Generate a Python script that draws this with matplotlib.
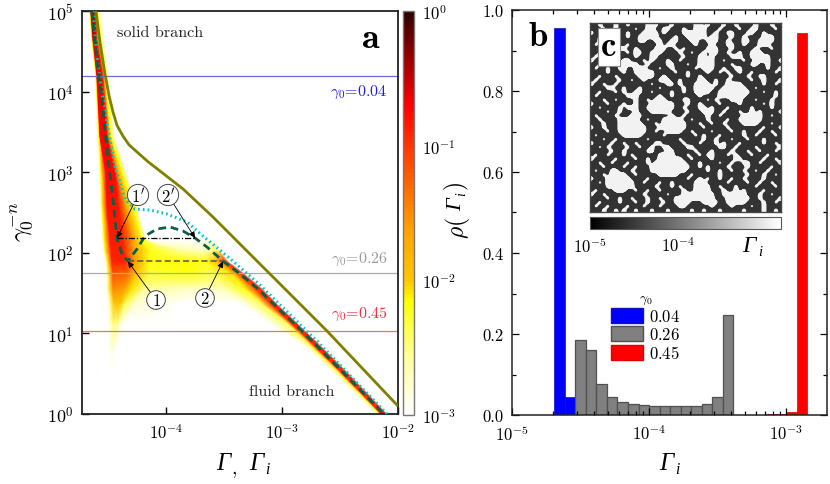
import numpy as np
import matplotlib
matplotlib.use("Agg")
import matplotlib.pyplot as plt
from matplotlib.colors import LinearSegmentedColormap, LogNorm
from matplotlib.cm import ScalarMappable
from matplotlib.patches import Patch
from matplotlib.ticker import MultipleLocator, FormatStrFormatter, NullLocator, FixedLocator, NullFormatter

plt.rcParams["font.family"] = ["cmr10", "DejaVu Sans"]
plt.rcParams["mathtext.fontset"] = "cm"
plt.rcParams["axes.formatter.use_mathtext"] = True
plt.rcParams["axes.unicode_minus"] = False

# panel a, curves (log10 Gamma, log10 gamma0^-n)
olive_x = [-4.603, -4.586, -4.569, -4.526, -4.491, -4.457, -4.422, -4.371, -4.319, -4.25, -4.155, -4.052, -3.853, -3.595, -3.19, -3.06, -2.612, -2.009]
olive_y = [5.0, 4.8, 4.615, 4.218, 3.95, 3.747, 3.58, 3.449, 3.34, 3.251, 3.13, 3.015, 2.792, 2.444, 1.861, 1.675, 1.03, 0.112]
cyan_x = [-4.629, -4.595, -4.569, -4.509, -4.44, -4.353, -4.267, -4.138, -3.991, -3.819, -3.681, -3.474, -3.207, -2.69, -2.095]
cyan_y = [5.0, 4.442, 4.156, 3.623, 3.077, 2.667, 2.543, 2.531, 2.481, 2.382, 2.208, 1.96, 1.625, 0.893, 0.0]
green_x = [-4.638, -4.586, -4.552, -4.5, -4.457, -4.422, -4.379, -4.328, -4.25, -4.181, -4.078, -3.966, -3.853, -3.75, -3.647, -3.509, -3.362, -3.207, -2.819, -2.121]
green_y = [5.0, 4.28, 3.908, 3.164, 2.667, 2.171, 1.985, 1.898, 2.047, 2.208, 2.295, 2.32, 2.27, 2.184, 2.072, 1.898, 1.737, 1.551, 1.017, 0.0]

# strain lines and the two tie lines
strain_levels = [4.19, 1.75, 1.03]
strain_colors = ["#6a6ae6", "#aaaaaa", "#ff6a6a"]
strain_names = ["$\\gamma_0$=0.04", "$\\gamma_0$=0.26", "$\\gamma_0$=0.45"]
strain_text = ["#2020e0", "#999999", "#f03040"]
tie1_x, tie1_y = [-4.328, -3.491], 1.893
tie2_x, tie2_y = [-4.422, -3.75], 2.184

# panel a, density map: one row per height, samples across the two branches
heat_y = [5.0, 4.653, 4.194, 3.449, 2.978, 2.605, 2.171, 2.022, 1.898, 1.737, 1.551, 1.365, 1.117, 0.806, 0.496, 0.0]
heat_x = [
    [-4.664, -4.655, -4.647, -4.621, -4.603, -4.595, -4.56, -3.707, -3.664, -3.638, -3.621, -3.603],
    [-4.647, -4.638, -4.629, -4.603, -4.586, -4.569, -4.534, -3.707, -3.664, -3.638, -3.621, -3.603],
    [-4.612, -4.603, -4.595, -4.552, -4.534, -4.526, -4.49, -3.707, -3.664, -3.638, -3.621, -3.603],
    [-4.595, -4.578, -4.569, -4.509, -4.491, -4.474, -4.44, -3.707, -3.664, -3.638, -3.621, -3.603],
    [-4.578, -4.560, -4.517, -4.44, -4.414, -4.371, -4.335, -3.707, -3.664, -3.638, -3.621, -3.603],
    [-4.569, -4.552, -4.509, -4.414, -4.353, -4.284, -4.25, -3.707, -3.664, -3.638, -3.621, -3.603],
    [-4.552, -4.534, -4.483, -4.379, -4.284, -4.207, -4.17, -3.707, -3.664, -3.638, -3.621, -3.603],
    [-4.543, -4.526, -4.474, -4.362, -4.284, -4.138, -3.836, -3.664, -3.603, -3.569, -3.543, -3.526],
    [-4.526, -4.509, -4.466, -4.353, -4.267, -4.138, -3.836, -3.664, -3.569, -3.517, -3.483, -3.466],
    [-4.517, -4.5, -4.457, -4.328, -4.267, -4.138, -3.793, -3.603, -3.431, -3.379, -3.336, -3.319],
    [-4.517, -4.5, -4.457, -4.362, -4.293, -4.181, -3.793, -3.517, -3.319, -3.233, -3.181, -3.164],
    [-4.509, -4.483, -4.448, -4.397, -4.353, -4.267, -3.879, -3.345, -3.172, -3.095, -3.052, -3.043],
    [-4.5, -4.483, -4.457, -4.422, -4.397, -4.353, -3.879, -3.103, -2.948, -2.914, -2.871, -2.862],
    [-4.491, -4.483, -4.474, -4.448, -4.44, -4.431, -3.879, -2.776, -2.724, -2.69, -2.647, -2.638],
    [-4.491, -4.483, -4.474, -4.466, -4.457, -4.448, -3.879, -2.552, -2.5, -2.474, -2.431, -2.422],
    [-4.491, -4.483, -4.474, -4.466, -4.457, -4.448, -3.879, -2.198, -2.155, -2.147, -2.103, -2.095],
]
heat_v = [
    [-3, -2.2, -0.25, -0.35, -1.5, -2.2, -3, -3, -3, -3, -3, -3],
    [-3, -2.2, -0.6, -0.6, -1.5, -2.2, -3, -3, -3, -3, -3, -3],
    [-3, -2.2, -0.65, -0.65, -1.5, -2.2, -3, -3, -3, -3, -3, -3],
    [-3, -2.2, -0.7, -0.7, -1.6, -2.2, -3, -3, -3, -3, -3, -3],
    [-3, -2.2, -0.75, -0.75, -1.6, -2.2, -3, -3, -3, -3, -3, -3],
    [-3, -2.2, -0.8, -0.8, -1.6, -2.2, -3, -3, -3, -3, -3, -3],
    [-3, -2.2, -0.85, -0.85, -1.6, -2.2, -3, -3, -3, -3, -3, -3],
    [-3, -2.3, -0.9, -0.9, -1.6, -2.2, -2.6, -2.7, -2.5, -2.4, -2.4, -3],
    [-3, -2.3, -0.9, -0.9, -1.6, -2.2, -2.15, -2.2, -1.9, -1.2, -1.0, -3],
    [-3, -2.4, -1.2, -1.3, -1.9, -2.3, -2.2, -2.4, -2.1, -1.3, -0.9, -3],
    [-3, -2.5, -1.5, -1.6, -2.1, -2.6, -2.75, -2.7, -2.2, -1.2, -0.9, -3],
    [-3, -2.6, -2.0, -2.0, -2.4, -2.8, -3, -3, -2.4, -1.0, -0.9, -3],
    [-3, -2.8, -2.5, -2.5, -2.8, -3, -3, -3, -2.4, -1.0, -0.8, -3],
    [-3, -2.9, -2.85, -2.85, -2.9, -3, -3, -3, -2.4, -1.0, -0.8, -3],
    [-3, -3, -3, -3, -3, -3, -3, -3, -2.4, -1.0, -0.8, -3],
    [-3, -3, -3, -3, -3, -3, -3, -3, -2.4, -1.0, -0.8, -3],
]

# panel b, histogram bins (log10 of the bin edges) and bar heights
bin_edges = [-4.692, -4.615, -4.538, -4.461, -4.384, -4.307, -4.230, -4.153, -4.076, -3.999, -3.922, -3.845, -3.768,
             -3.691, -3.614, -3.537, -3.460, -3.383, -3.306, -3.229, -3.152, -3.075, -2.998, -2.921, -2.844]
blue_bars = [0.955, 0.045]
gray_bars = [0.184, 0.160, 0.077, 0.044, 0.033, 0.028, 0.024, 0.021, 0.021, 0.021, 0.021, 0.022, 0.027, 0.044, 0.247]
red_bars = [0.0003, 0.0005, 0.0007, 0.001, 0.0012, 0.0015, 0.002, 0.0066, 0.944]
legend_names = ["$0.04$", "$0.26$", "$0.45$"]

# panel c, map of low and high Gamma sites, x is the low value
site_low, site_high = 2.7e-5, 1.2e-3
site_map = [
    "xx.xxx.xx.xxxx...xxx.xxxxx..x.xxx.xx.xxxx.xxx.xx",
    "xxx.xx.xxxx.xx..xx..xxx.xx...xxx.xxxx.xx..xxxx.x",
    ".xxxx..xx.xxx....x.xxxx...x..xx.xx..xxx..xx.xxxx",
    "xx.xx.xxx.xx.....xxxx.xx.....x..xxx.xx.xxxx...xx",
    "xx..xxx.xxxx..xx..xx..xxx..xx...xx.xxx..xx..x.xx",
    "x.xx.xxxx.xxxxxxx.x..xxxxx.xxx.xxx..xx.xxx...xxx",
    "xxx.xx...xx.xxxx...xx.x.xxxxx...xxx.xxxxx.xxx.xx",
    "xx.xxx.xx.x..xx.x.xxxx.xx.xx.x..xx.xx.xx...xxxxx",
    "x.xx.xxxxxx.xxx..xxxxxx.xxx..x.xxxx...xx.....xxx",
    ".xxxx.xx..xxx.x.xxx.xx.xxxx....xx.xxxx.xx....xx.",
    "xx.xxxx.....xx.xxxx..xxx.xx....xxxx.xxxx..xx.xxx",
    "x.xx.xx..xx...xxx.xx.xxxxx.x...xx.xx..xxxxxx.xx.",
    "xxxx.xxx.xx.....xxxxx.xx.xxxx.xx.x.xx.xx.xxxxx.x",
    "xx.xxx.xxxxx....xx.xxxxx.xx.xxxxxxx.xxx.xx..xxxx",
    "x.xxxxx.xx.xx.xxx...xx.xxxx..xx.xx.xxxxx.xx.xxx.",
    ".xx.xx.xxxxxxxx.xxx..x.xxx....x.xx....xxxxx.xx.x",
    "xxxx..xx.xxx.xxxx.xxxxx.xx.....xx......xx.xxxxxx",
    "xx.xxx.x.xx..xx.xxxx.xx.xx....xx........xxx.xx.x",
    "x.xxxxxxx...xxxxx.xx.xxxxxx.xxxx.......xxxxxxx.x",
    "xxx.xx.xxxx.xx.x...xxxx..xxxx.x.xxx...xxx.xxx.xx",
    ".xxx.xxx.xx.xxx......xxx.xx.xxxx.xxxx.xxxxx.x.xx",
    "xx.xxxx.x...xx.......xx.xxx..x.xxx.xxxxx.xxxx.xx",
    "xxxx.xx.xxx.xxx.....xxxx.xxx...xx.xxx.xx.x.xxxx.",
    "x.xxxx.xxx...xxxxxxx.xx.xxxxx.xx.xxxxx.....xx.xx",
    "xx.xxxx.....xx.xxx.....xx.xxx.xxxx.xx......xxxxx",
    "xxx.xxx......xxx.x......xxx.xx.xx.xxxx....xxx.xx",
    ".xx.xxx.......xxx.......xxxx.xxxxx.xxxxxxxx.xxx.",
    "xxxx.xx.......xx.xx....xx.xxxx.xxxx.xx.xxx.xx.xx",
    "x.xxxxxx.....xxxxx.xxxxxxx.x.xxx.xxxxx.xx.xxxx.x",
    "xxx.xx.xxxxxxx.xxxxxxx.xxxxx.xx.xxx.xxx.xxx.xxxx",
    ".xxxx.xx.xx.xxxx..xxxxx.xxx.xxx.x.xxx.xxxxx.xx.x",
    "xx.x.xxxx.xx.xx.xx..xxxx..xxxxxx..xx.xxxx.xxxxx.",
    "xxxxx.xx.xxxxx..xxx..xxxxx.xxx.xxxx.xxx.xx.xxx.x",
    "x.xx.xxx.x.xxxxxx....xxx.xx.x..xxx.x.xxx.xxx.xxx",
    ".xxxxx.xxxx.xx.xx......xx.xxxx.xxxxx..xxxxx.xx.x",
    "xx.xx.xxx.xxxx.x........xxx.xxxx.xx.xx..xx.xxxx.",
    "xxx.xxxx.xx.xxx..........xx.x.xxxx.xxxx.xxxxx.xx",
    "x.xxx..xxx.xxxx.........xxxxx.xx.xx.xx.xx.xx.xxx",
    "xxx.x....xx.xxxxx.....xxx.xxxxxx.xxxxxx.xxx.xx.x",
    ".xxx......xxxx.xxxxxxxxx.xx.x.xx.xx.xx.xxxx.xxxx",
    "xx.x.......xx.xxx.xx.xxxxx...xxxxx.xxxx.xx.xx.xx",
    "xxxx.......xxxxx.xxx.x.xxx....xx.xxx.xxxx.xxxx.x",
    "x.xxxx...xx.xx.xx.xxxxx.xx....xxx.xx.x.xxxx.xxxx",
    ".xx.xxxxxxxxx.xxxxx.xxx........xx......xxx.xx.xx",
    "xxxx.xx.xx.xxx.xx.xxx..........xxx......xx.xxxx.",
    "xx.xxxx.xxx.xx.xxx.xx....xxx....xx.....xxxx.xx.x",
    "x.xx.xxxx.xxx.xxx.xxxx..xxxxxx.xxxx.xxxx.xx.xxxx",
    "xxx.xx.x.xx.xxx.xxx.xxxxx.xx.xxx.xxxxx.xxxx.xx.x",
]

W, H = 830.0, 485.0


def box(x0, y0, x1, y1):
    return [x0 / W, 1 - y1 / H, (x1 - x0) / W, (y1 - y0) / H]


def ftext(x, y, s, **kw):
    kw.setdefault("ha", "center")
    kw.setdefault("va", "center")
    return fig.text(x / W, 1 - y / H, s, **kw)


def gamma_i(x, y, size=18, sub=True, rotation=0):
    # italic capital gamma is not reachable through the cm mathtext fonts
    ftext(x, y, "\u0393", family="Liberation Serif", style="italic", fontsize=size, rotation=rotation)
    if sub:
        if rotation:
            ftext(x + 5, y - 11, "i", family="Liberation Serif", style="italic", fontsize=size * 0.62, rotation=rotation)
        else:
            ftext(x + 11, y + 6, "i", family="Liberation Serif", style="italic", fontsize=size * 0.62)


heat_cmap = LinearSegmentedColormap.from_list(
    "heat",
    [(0, "#ffffff"), (0.14, "#ffff9c"), (0.28, "#ffff00"), (0.33, "#ffc800"), (0.46, "#ffa000"),
     (0.77, "#ff0000"), (0.88, "#a00000"), (1, "#300000")], N=100)
heat_norm = LogNorm(1e-3, 1)

fig = plt.figure(figsize=(8.3, 4.85), dpi=100)

# panel a
ax = fig.add_axes(box(82, 12, 398, 415))
ax.set_xscale("log")
ax.set_yscale("log")
X = 10.0 ** np.array(heat_x)
Y = 10.0 ** np.repeat(np.array(heat_y)[:, None], X.shape[1], axis=1)
ax.pcolormesh(X, Y, 10.0 ** np.array(heat_v), shading="gouraud", cmap=heat_cmap, norm=heat_norm, zorder=1)

for level, col in zip(strain_levels, strain_colors):
    ax.axhline(10.0 ** level, color=col, lw=0.9, zorder=2)

ax.plot(10.0 ** np.array(olive_x), 10.0 ** np.array(olive_y), color="#808000", lw=2.0, zorder=3)
ax.plot(10.0 ** np.array(cyan_x), 10.0 ** np.array(cyan_y), color="#00c8c8", lw=2.2, ls=(0, (0.55, 1.0)), zorder=3)
ax.plot(10.0 ** np.array(green_x), 10.0 ** np.array(green_y), color="#0a5f46", lw=2.0, ls=(0, (2.8, 1.7)), zorder=4)
ax.plot(10.0 ** np.array(tie1_x), [10.0 ** tie1_y] * 2, color="#555555", lw=1.1, ls=(0, (4, 2)), zorder=4)
ax.plot(10.0 ** np.array(tie2_x), [10.0 ** tie2_y] * 2, color="black", lw=0.9, ls=(0, (5, 1.5, 1, 1.5)), zorder=4)

ax.set_xlim(10 ** -4.724, 1e-2)
ax.set_ylim(1, 1e5)
ax.xaxis.set_major_locator(FixedLocator([1e-4, 1e-3, 1e-2]))
ax.xaxis.set_minor_locator(NullLocator())
ax.yaxis.set_major_locator(FixedLocator([1, 1e1, 1e2, 1e3, 1e4, 1e5]))
ax.yaxis.set_minor_locator(NullLocator())
ax.set_xticklabels(["$10^{-4}$", "$10^{-3}$", "$10^{-2}$"], fontsize=12)
ax.set_yticklabels(["$10^{0}$", "$10^{1}$", "$10^{2}$", "$10^{3}$", "$10^{4}$", "$10^{5}$"], fontsize=13)
ax.tick_params(direction="in", length=5, width=1, pad=6)
for s in ax.spines.values():
    s.set_linewidth(1.3)
    s.set_color("#222222")

# circled labels with arrows
circled = [("$\\mathbf{1^{\\prime}}$", 138, 196, -4.422, 2.184), ("$\\mathbf{2^{\\prime}}$", 168, 196, -3.75, 2.184),
           ("$\\mathbf{1}$", 156, 301, -4.328, 1.893), ("$\\mathbf{2}$", 205, 299, -3.509, 1.893)]
for name, tx, ty, ax_x, ax_y in circled:
    ax.annotate(name, xy=(10.0 ** ax_x, 10.0 ** ax_y), xytext=(tx / W, 1 - ty / H), textcoords="figure fraction",
                ha="center", va="center", fontsize=12, zorder=6,
                bbox=dict(boxstyle="circle,pad=0.08", fc="white", ec="#444444", lw=0.7),
                arrowprops=dict(arrowstyle="-|>", color="black", lw=0.6, shrinkA=0, shrinkB=0, mutation_scale=9))

ftext(160, 33, "solid branch", fontsize=11.7, color="#222222")
ftext(292, 392, "fluid branch", fontsize=11.7, color="#222222")
for name, col, ty in zip(strain_names, strain_text, [92, 259, 314]):
    ftext(359, ty, name, fontsize=11.5, color=col)
ftext(371, 40, "a", family="cmb10", fontsize=26)

# colour bar of panel a
cax = fig.add_axes(box(403, 12, 414, 416))
cb = fig.colorbar(ScalarMappable(norm=heat_norm, cmap=heat_cmap), cax=cax)
cb.set_ticks([1e-3, 1e-2, 1e-1, 1], labels=["$10^{-3}$", "$10^{-2}$", "$10^{-1}$", "$10^{0}$"])
cb.ax.minorticks_off()
cb.ax.tick_params(length=0, labelsize=12, pad=6)
cb.outline.set_edgecolor("#777777")
cb.outline.set_linewidth(1.0)

# panel b
bx = fig.add_axes(box(512, 11, 827, 416))
bx.set_xscale("log")
edges = 10.0 ** np.array(bin_edges)
widths = np.diff(edges)
bx.bar(edges[:2], blue_bars, width=widths[:2], align="edge", color="#0000ff", edgecolor="#1010c0", lw=0.5)
bx.bar(edges[2:17], gray_bars, width=widths[2:17], align="edge", color="#808080", edgecolor="#505050", lw=0.9)
bx.bar(edges[15:24], red_bars, width=widths[15:24], align="edge", color="#ff0000", edgecolor="#e00000", lw=0.5)
bx.set_xlim(1e-5, 10 ** -2.70)
bx.set_ylim(0, 1)
bx.set_xticks([1e-5, 1e-4, 1e-3], labels=["$10^{-5}$", "$10^{-4}$", "$10^{-3}$"], fontsize=12)
bx.xaxis.set_minor_locator(matplotlib.ticker.LogLocator(base=10, subs=range(2, 10), numticks=12))
bx.xaxis.set_minor_formatter(NullFormatter())
bx.yaxis.set_major_locator(MultipleLocator(0.2))
bx.yaxis.set_minor_locator(MultipleLocator(0.1))
bx.yaxis.set_major_formatter(FormatStrFormatter("%.1f"))
bx.tick_params(which="both", direction="in", top=True, right=True, width=0.9, labelsize=12, pad=6)
bx.tick_params(which="major", length=5)
bx.tick_params(which="minor", length=3)
for s in bx.spines.values():
    s.set_linewidth(1.1)
    s.set_color("#222222")

handles = [Patch(fc="#0000ff", ec="#1010c0"), Patch(fc="#808080", ec="#505050"), Patch(fc="#ff0000", ec="#e00000")]
bx.legend(handles, legend_names, title="$\\gamma_0$", title_fontsize=10, fontsize=12, frameon=False,
          loc="upper left", bbox_to_anchor=((611 - 512) / 315, (416 - 293) / 405), borderaxespad=0, borderpad=0,
          handlelength=1.93, handleheight=0.95, labelspacing=0.12, handletextpad=0.35)
ftext(538, 38, "b", family="cmb10", fontsize=25)

# panel c
cx = fig.add_axes(box(590, 24, 781, 213), zorder=5)
site_grid = np.array([[site_low if c == "x" else site_high for c in row.ljust(48, ".")[:48]] for row in site_map])
site_norm = LogNorm(1e-5, 10 ** -2.82)
site_cmap = LinearSegmentedColormap.from_list(
    "sites", [(0, "#333333"), (0.36, "#333333"), (0.44, "#f2f2f2"), (1, "#f2f2f2")])
cx.imshow(site_grid, cmap=site_cmap, vmin=site_low, vmax=site_high, interpolation="bicubic",
          interpolation_stage="data", aspect="auto")
cx.set_xticks([])
cx.set_yticks([])
for s in cx.spines.values():
    s.set_linewidth(1.0)
    s.set_color("#444444")
ftext(609, 48, "c", family="cmb10", fontsize=25, zorder=10,
      bbox=dict(boxstyle="square,pad=0.1", fc="white", ec="#888888", lw=0.8))

kx = fig.add_axes(box(590, 218, 781, 229.5), zorder=5)
kb = fig.colorbar(ScalarMappable(norm=site_norm, cmap="gray"), cax=kx, orientation="horizontal")
kb.set_ticks([1e-5, 1e-4], labels=["$10^{-5}$", "$10^{-4}$"])
kb.ax.minorticks_off()
kb.ax.tick_params(length=0, labelsize=12, pad=5)
kb.outline.set_edgecolor("#555555")
kb.outline.set_linewidth(0.8)

# axis labels
ftext(22, 222, "$\\gamma_0^{-n}$", fontsize=18, rotation=90)
gamma_i(223, 464, sub=False)
ftext(234, 471, "$,$", fontsize=14)
gamma_i(256, 464)
gamma_i(666, 464)
gamma_i(749, 247, size=17)
ftext(457, 228, "$\\rho($", fontsize=17, rotation=90)
gamma_i(457, 205, size=16, rotation=90)
ftext(457, 187, "$)$", fontsize=17, rotation=90)

fig.savefig("out.png", dpi=100)
